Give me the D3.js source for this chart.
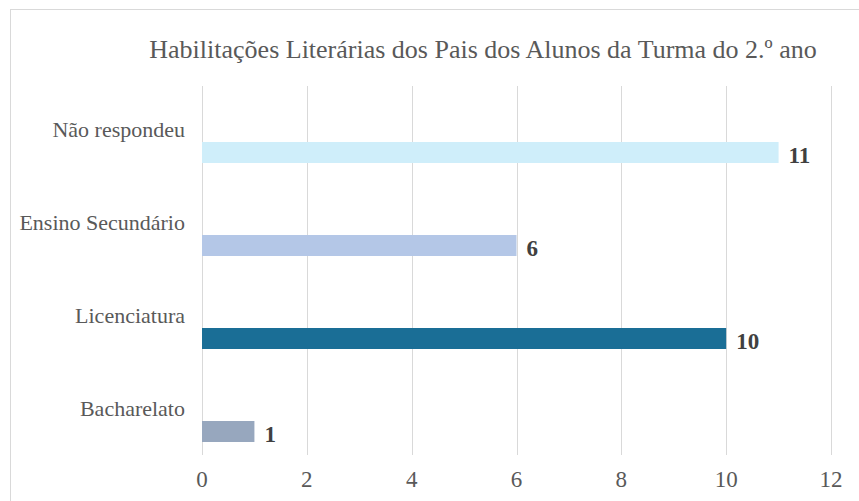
<!DOCTYPE html>
<html>
<head>
<meta charset="utf-8">
<script src="https://cdn.jsdelivr.net/npm/d3@7"></script>
<style>
  body { margin: 0; background: #fff; }
</style>
</head>
<body>
<script>

var title = "Habilitações Literárias dos Pais dos Alunos da Turma do 2.º ano";
var categories = ["Não respondeu", "Ensino Secundário", "Licenciatura", "Bacharelato"];
var values = [11, 6, 10, 1];
var colors = ["#cfeefa", "#b4c7e7", "#1a6e96", "#97a7be"];
var ticks = [0, 2, 4, 6, 8, 10, 12];

var width = 859;
var height = 501;
var serif = "'Liberation Serif', 'Times New Roman', Times, serif";

var svg = d3.select("body").append("svg")
			.attr("width", width)
			.attr("height", height)
			.style("font-family", serif);

// chart frame (right and bottom edges are off the picture)
svg.append("rect")
	.attr("x", 10.5).attr("y", 9.5)
	.attr("width", 900).attr("height", 600)
	.attr("fill", "#fff")
	.attr("stroke", "#d9d9d9");

var x = d3.scaleLinear().domain([0, 12]).range([202, 831]);
var y = d3.scaleBand().domain(categories).range([84, 456]);

// grid lines
svg.append("g").selectAll("line").data(ticks)
	.enter().append("line")
	.attr("x1", function(d){ return Math.round(x(d)) + 0.5; })
	.attr("x2", function(d){ return Math.round(x(d)) + 0.5; })
	.attr("y1", 86).attr("y2", 455)
	.attr("stroke", "#d9d9d9");

// x tick labels
svg.append("g").selectAll("text").data(ticks)
	.enter().append("text")
	.attr("x", function(d){ return x(d); })
	.attr("y", 487)
	.attr("text-anchor", "middle")
	.attr("font-size", 23)
	.attr("fill", "#595959")
	.text(function(d){ return d; });

// category labels
svg.append("g").selectAll("text").data(categories)
	.enter().append("text")
	.attr("x", 185)
	.attr("y", function(d){ return y(d) + y.bandwidth() / 2 + 6.5; })
	.attr("text-anchor", "end")
	.attr("font-size", 22)
	.attr("fill", "#595959")
	.text(function(d){ return d; });

// bars
svg.append("g").selectAll("rect").data(values)
	.enter().append("rect")
	.attr("x", x(0))
	.attr("y", function(d, i){ return y(categories[i]) + 58; })
	.attr("width", function(d){ return x(d) - x(0); })
	.attr("height", 21)
	.attr("fill", function(d, i){ return colors[i]; });

// value labels
svg.append("g").selectAll("text").data(values)
	.enter().append("text")
	.attr("x", function(d){ return x(d) + 10; })
	.attr("y", function(d, i){ return y(categories[i]) + 58 + 20.5; })
	.attr("font-size", 23)
	.attr("font-weight", "bold")
	.attr("fill", "#404040")
	.text(function(d){ return d; });

// title
svg.append("text")
	.attr("x", 483)
	.attr("y", 58)
	.attr("text-anchor", "middle")
	.attr("font-size", 26)
	.attr("fill", "#595959")
	.text(title);

</script>
</body>
</html>
